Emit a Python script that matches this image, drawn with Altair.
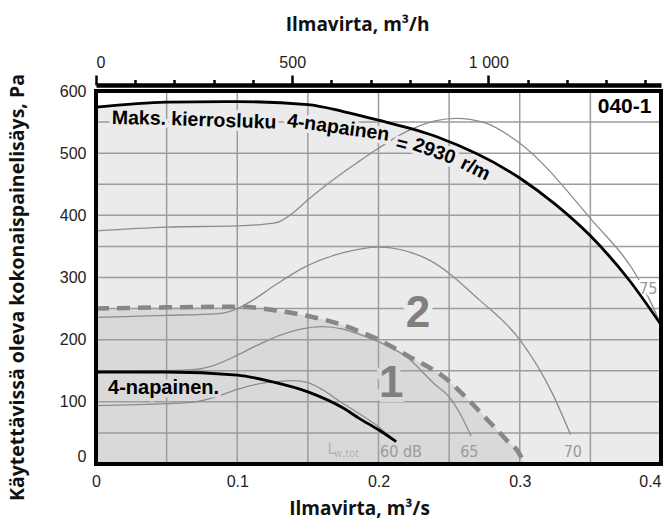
import altair as alt
import pandas as pd

# ---------------- data ----------------
x_ticks = [0, 0.1, 0.2, 0.3, 0.4]
y_ticks = [0, 100, 200, 300, 400, 500, 600]
grid_x = [0.05, 0.1, 0.15, 0.2, 0.25, 0.3, 0.35]
grid_y = [50, 100, 150, 200, 250, 300, 350, 400, 450, 500, 550]
top_ticks = [0, 100, 200, 300, 400, 500, 600, 700, 800, 900, 1000, 1100, 1200, 1300, 1400]

# max speed curve (4-pole, 2930 r/m)
max_q = [0, 0.05, 0.1, 0.15, 0.175, 0.2, 0.2417, 0.3, 0.325, 0.35, 0.3774, 0.4]
max_p = [574, 582, 583, 578, 567, 553, 526, 460, 418, 367, 296, 224]

# dashed boundary of area 1
dash_q = [0, 0.05, 0.1, 0.13, 0.15, 0.1725, 0.19, 0.2, 0.22, 0.249, 0.265, 0.2784, 0.29, 0.3008, 0.303]
dash_p = [250, 252, 253, 246, 238, 225, 210, 200, 175, 135, 100, 68, 40, 12, 0]

# 4-napainen curve
pole_q = [0, 0.05, 0.1, 0.125, 0.15, 0.175, 0.1866, 0.2, 0.2125]
pole_p = [148, 148, 143, 132, 116, 90, 73, 55, 36]

# sound level curves
lw60_q = [0, 0.05, 0.07, 0.085, 0.1, 0.115, 0.13, 0.14, 0.15, 0.16, 0.1725, 0.187, 0.2, 0.21]
lw60_p = [94, 97, 100, 108, 120, 129, 133, 134, 131, 120, 101, 80, 60, 40]
lw65_q = [0, 0.05, 0.07, 0.085, 0.1, 0.115, 0.13, 0.145, 0.16, 0.175, 0.187, 0.2, 0.22, 0.24, 0.25, 0.258, 0.2655]
lw65_p = [149, 150, 152, 160, 175, 192, 207, 217, 221, 217, 208, 197, 172, 128, 108, 80, 45]
lw70_q = [0, 0.05, 0.087, 0.1, 0.112, 0.125, 0.148, 0.175, 0.2, 0.236, 0.2714, 0.3, 0.323, 0.336]
lw70_p = [236, 239, 242, 250, 265, 285, 317, 340, 349, 328, 264, 200, 114, 47]
lw75_q = [0, 0.05, 0.1, 0.12, 0.13, 0.14, 0.15, 0.1725, 0.187, 0.198, 0.22, 0.24, 0.255, 0.275, 0.3, 0.35, 0.3845, 0.3915, 0.399]
lw75_p = [375, 381, 383, 386, 390, 405, 425, 465, 488, 505, 535, 552, 556, 549, 516, 395, 296, 266, 229]

# max-curve label, word by word along the curve
maks_words = ["Maks.", "kierrosluku", "4-napainen", "=", "2930", "r/m"]
maks_q = [0.0304, 0.0905, 0.1715, 0.2165, 0.2395, 0.2686]
maks_p = [556, 552, 541, 514, 503, 475]
maks_angle = [1, 2, 8, 15, 20, 26]

sound_text = ["60 dB", "65", "70"]
sound_q = [0.2159, 0.2643, 0.3376]
sound_p = [20, 20, 20]

# ---------------- styling ----------------
W, H = 565, 373
LABEL_FONT = "DejaVu Sans Condensed, Liberation Sans Narrow, Liberation Sans, sans-serif"
TICK_FONT = "Liberation Sans, Arial, sans-serif"
BOLD_FONT = "Liberation Sans, Arial, sans-serif"
TITLE_FONT = "Open Sans, sans-serif"
C_FILL2 = "#ebebeb"
C_FILL1 = "#d9d9d9"
C_GRID = "#9d9d9d"
C_THIN = "#8c8c8c"

xscale = alt.Scale(domain=[0, 0.4], nice=False, zero=False)
yscale = alt.Scale(domain=[0, 600], nice=False)

x_axis = alt.Axis(
    values=x_ticks,
    labelExpr="datum.value == 0 ? '0' : format(datum.value, '.1f')",
    labelAlign={"condition": {"test": "datum.value >= 0.4", "value": "right"}, "value": "center"},
    grid=False, ticks=False, domain=False,
    labelFont=TICK_FONT, labelFontSize=16, labelColor="#222",
    labelPadding=9, labelFlush=False,
    title="Ilmavirta, m³/s", titleFont=TITLE_FONT, titleFontSize=19,
    titleFontWeight="bold", titleColor="#111",
    titleX=263, titleY=44, titleAlign="center", titleBaseline="middle",
)
y_axis = alt.Axis(
    values=y_ticks, grid=False, ticks=False, domain=False,
    labelFont=TICK_FONT, labelFontSize=16, labelColor="#222",
    labelPadding=10,
    labelBaseline={"condition": {"test": "datum.value == 0", "value": "bottom"}, "value": "middle"},
    title="Käytettävissä oleva kokonaispainelisäys, Pa", titleFont=TITLE_FONT,
    titleFontSize=19.5, titleFontWeight="bold", titleColor="#111",
    titleX=-79, titleY=196, titleAlign="center", titleBaseline="middle",
)

X = alt.X("q:Q", scale=xscale, axis=x_axis)
Y = alt.Y("p:Q", scale=yscale, axis=y_axis)


def df(q, p, **extra):
    d = pd.DataFrame({"q": q, "p": p})
    for k, v in extra.items():
        d[k] = v
    return d


max_df = df(max_q, max_p)
dash_df = df(dash_q, dash_p)
pole_df = df(pole_q, pole_p)
thin_df = pd.concat([
    df(lw60_q, lw60_p, curve="60"),
    df(lw65_q, lw65_p, curve="65"),
    df(lw70_q, lw70_p, curve="70"),
    df(lw75_q, lw75_p, curve="75"),
])

area2 = alt.Chart(max_df).mark_area(color=C_FILL2, interpolate="monotone").encode(x=X, y=Y)
area1 = alt.Chart(dash_df).mark_area(color=C_FILL1, interpolate="monotone").encode(x=X, y=Y)

gx = alt.Chart(pd.DataFrame({"q": grid_x})).mark_rule(color=C_GRID, strokeWidth=1.5).encode(x=X)
gy = alt.Chart(pd.DataFrame({"p": grid_y})).mark_rule(color=C_GRID, strokeWidth=1.5).encode(y=Y)

thin = alt.Chart(thin_df).mark_line(color=C_THIN, strokeWidth=1.3, interpolate="monotone").encode(
    x=X, y=Y, detail="curve:N")


def text(d, color, size, font, weight="normal", align="center", halo=None, halo_w=0, angle=False):
    layers = []
    enc = dict(x=X, y=Y, text="t:N")
    if angle:
        enc["angle"] = alt.Angle("a:Q", scale=None)
    if halo is not None:
        layers.append(alt.Chart(d).mark_text(
            font=font, fontSize=size, fontWeight=weight, align=align, baseline="middle",
            color=halo, stroke=halo, strokeWidth=halo_w, strokeJoin="round").encode(**enc))
    layers.append(alt.Chart(d).mark_text(
        font=font, fontSize=size, fontWeight=weight, align=align, baseline="middle",
        color=color).encode(**enc))
    return layers


maks_df = pd.DataFrame({"q": maks_q, "p": maks_p, "t": maks_words, "a": maks_angle})
t_maks = text(maks_df, "#000", 19.5, BOLD_FONT, "bold", halo=C_FILL2, halo_w=7, angle=True)
t_pole = text(pd.DataFrame({"q": [0.0085], "p": [122], "t": ["4-napainen."]}),
              "#000", 20, BOLD_FONT, "bold", align="left", halo=C_FILL1, halo_w=7)
t_two = text(pd.DataFrame({"q": [0.2279], "p": [241], "t": ["2"]}),
             "#808080", 44, BOLD_FONT, "bold", halo=C_FILL2, halo_w=10)
t_one = text(pd.DataFrame({"q": [0.209], "p": [129], "t": ["1"]}),
             "#808080", 44, BOLD_FONT, "bold", halo=C_FILL1, halo_w=10)
t_box = text(pd.DataFrame({"q": [0.3742], "p": [575], "t": ["040-1"]}),
             "#000", 21, BOLD_FONT, "bold")
t_75 = text(pd.DataFrame({"q": [0.391], "p": [281], "t": ["75"]}),
            "#999", 16, LABEL_FONT, halo="#ffffff", halo_w=5)
t_sound = text(pd.DataFrame({"q": sound_q, "p": sound_p, "t": sound_text}),
               "#999", 16, LABEL_FONT)
t_L = text(pd.DataFrame({"q": [0.1668], "p": [24], "t": ["L"]}), "#b3b3b3", 16, LABEL_FONT)
t_wtot = text(pd.DataFrame({"q": [0.1774], "p": [16], "t": ["w,tot"]}), "#b3b3b3", 11, LABEL_FONT)

dashed = alt.Chart(dash_df).mark_line(color="#878787", strokeWidth=4.5, strokeDash=[13, 8],
                                      interpolate="monotone").encode(x=X, y=Y)
max_line = alt.Chart(max_df).mark_line(color="#000", strokeWidth=2.8, interpolate="monotone").encode(x=X, y=Y)
pole_line = alt.Chart(pole_df).mark_line(color="#000", strokeWidth=2.8, interpolate="monotone").encode(x=X, y=Y)

frame_df = pd.DataFrame({"q": [0], "q2": [0.4], "p": [0], "p2": [600]})
frame = alt.Chart(frame_df).mark_rect(fillOpacity=0, stroke="#000", strokeWidth=4).encode(
    x=X, x2="q2:Q", y=Y, y2="p2:Q")

main = alt.layer(
    area2, area1, gx, gy, thin,
    *t_maks, *t_pole, *t_two, *t_one, *t_box, *t_75, *t_sound, *t_L, *t_wtot,
    dashed, max_line, pole_line, frame,
)

top_axis = alt.Axis(
    orient="top", offset=6, values=top_ticks,
    labelExpr="datum.value == 1000 ? '1 000' : (datum.value % 500 == 0 ? '' + datum.value : '')",
    tickSize={"condition": {"test": "datum.value % 500 === 0", "value": 10}, "value": 5.5},
    tickWidth=2.5, tickColor="#000", domainColor="#000", domainWidth=4.5, grid=False,
    labelFont=TICK_FONT, labelFontSize=16, labelColor="#222", labelPadding=5,
    title="Ilmavirta, m³/h", titleFont=TITLE_FONT, titleFontSize=19, titleFontWeight="bold",
    titleColor="#111", titleX=261, titleY=-61, titleAlign="center", titleBaseline="middle",
)
top = alt.Chart(pd.DataFrame({"h": [0, 1440]})).mark_point(opacity=0).encode(
    x=alt.X("h:Q", scale=alt.Scale(domain=[0, 1440], nice=False), axis=top_axis))

chart = alt.layer(main, top).resolve_scale(x="independent").properties(
    width=W, height=H,
    autosize=alt.AutoSizeParams(type="none"),
    padding={"left": 96, "top": 91, "right": 3, "bottom": 66},
    background="white",
).configure_view(strokeWidth=0)

chart.save("out.html", embed_options={"renderer": "svg", "actions": False})
